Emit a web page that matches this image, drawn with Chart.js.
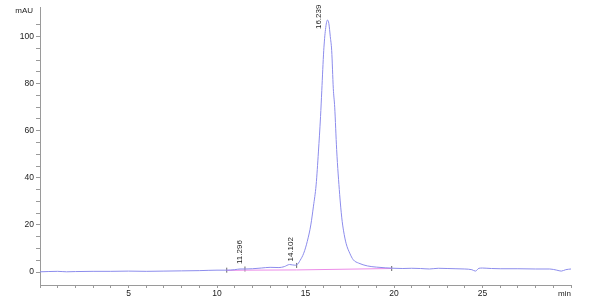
<!DOCTYPE html>
<html>
<head>
<meta charset="utf-8">
<script src="https://cdn.jsdelivr.net/npm/chart.js@4/dist/chart.umd.min.js"></script>
<style>
  body { margin: 0; background: #fff; }
  canvas { display: block; }
</style>
</head>
<body>
<canvas id="chromChart" width="600" height="300"></canvas>
<script>
// retention time (min) and absorbance (mAU)
const times = [0, 1, 1.5, 2, 3, 4, 5, 6, 7, 8, 9, 10, 10.55, 11, 11.3, 11.6, 12, 12.5, 13, 13.5, 13.8, 14.1, 14.4,
  14.5, 14.7, 14.9, 15.1, 15.3, 15.45, 15.6, 15.73, 15.85, 15.92, 16.03, 16.13, 16.24, 16.32, 16.4, 16.48, 16.57,
  16.65, 16.76, 16.93, 17.05, 17.15, 17.3, 17.5, 17.7, 18, 18.5, 19, 19.5, 20, 20.5, 21, 21.5, 22, 22.5, 23, 23.5,
  24, 24.4, 24.6, 24.8, 25, 25.5, 26, 27, 28, 28.8, 29.2, 29.45, 29.7, 30];
const mAU = [0.1, 0.3, 0.1, 0.2, 0.3, 0.3, 0.4, 0.3, 0.4, 0.5, 0.6, 0.8, 0.8, 1.0, 1.3, 1.3, 1.4, 1.7, 2.0, 1.9, 2.3, 3.2, 2.9,
  3.0, 5.0, 8.0, 13, 20, 28, 37, 51, 66, 77, 94, 103, 107, 105.5, 100, 94, 78,
  70, 52, 33, 23, 17.5, 12, 8, 5.2, 3.8, 2.6, 2.1, 1.8, 1.6, 1.5, 1.6, 1.5, 1.3, 1.6, 1.5, 1.4,
  1.3, 1.0, 0.4, 1.6, 1.7, 1.5, 1.4, 1.4, 1.3, 1.3, 0.8, 0.4, 1.0, 1.3];

// integration baseline
const baseTimes = [10.55, 11.58, 14.5, 19.87];
const baseMAU = [0.7, 0.8, 0.9, 1.5];

// peak start/end marks
const markTimes = [10.55, 11.58, 14.5, 19.87];
const markMAU = [0.8, 1.3, 2.8, 1.5];

// labelled peaks
const peakTimes = [11.296, 14.102, 16.239];
const peakMAU = [1.3, 3.2, 107];
const peakLabels = ['11.296', '14.102', '16.239'];

const xTicks = [5, 10, 15, 20, 25];
const yTicks = [0, 20, 40, 60, 80, 100];

const zip = (xs, ys) => xs.map((x, i) => ({ x, y: ys[i] }));

const FONT = "'Liberation Sans', Arial, sans-serif";
const AXIS = '#9a9a9a';
const TEXT = '#222';

const peakText = {
  id: 'peakText',
  afterDatasetsDraw(chart, args, opts) {
    const { ctx, scales: { x, y } } = chart;
    ctx.save();
    ctx.font = `8px ${FONT}`;
    ctx.fillStyle = TEXT;
    ctx.textAlign = 'left';
    ctx.textBaseline = 'middle';
    peakLabels.forEach((label, i) => {
      const [dx, dy] = opts.offsets[i];
      ctx.save();
      ctx.translate(x.getPixelForValue(peakTimes[i]) + dx, y.getPixelForValue(peakMAU[i]) + dy);
      ctx.rotate(-Math.PI / 2);
      ctx.fillText(label, 0, 0);
      ctx.restore();
    });
    // axis unit labels
    const area = chart.chartArea;
    ctx.textAlign = 'right';
    ctx.fillText('mAU', area.left - 7, area.top + 4);
    ctx.fillText('min', area.right, area.bottom + 9);
    ctx.restore();
  }
};

new Chart(document.getElementById('chromChart'), {
  type: 'line',
  data: {
    datasets: [{
      data: zip(times, mAU),
      borderColor: 'rgb(140, 140, 236)',
      borderWidth: 1,
      pointRadius: 0,
      cubicInterpolationMode: 'monotone',
    }, {
      data: zip(baseTimes, baseMAU),
      borderColor: 'rgb(236, 140, 232)',
      borderWidth: 1,
      pointRadius: 0,
    }, {
      type: 'scatter',
      data: zip(markTimes, markMAU),
      pointStyle: 'line',
      rotation: 90,
      radius: 2.5,
      borderColor: '#666',
      borderWidth: 1,
    }],
  },
  options: {
    responsive: false,
    animation: false,
    devicePixelRatio: 1,
    layout: { padding: { top: 7, right: 29, left: 0, bottom: 0 } },
    plugins: {
      legend: { display: false },
      tooltip: { enabled: false },
      peakText: { offsets: [[0, -5], [1, -3], [-9, 9]] },
    },
    scales: {
      x: {
        type: 'linear',
        min: 0,
        max: 30,
        afterFit: (s) => { s.height = 15; },
        grid: { drawOnChartArea: false, tickLength: 3, color: AXIS },
        border: { color: AXIS },
        ticks: {
          stepSize: 1,
          autoSkip: false,
          maxRotation: 0,
          padding: 1,
          color: TEXT,
          font: { size: 8.5, family: FONT },
          callback: (v) => (xTicks.includes(v) ? v : ''),
        },
      },
      y: {
        min: -5.5,
        max: 112.5,
        afterFit: (s) => { s.width = 40; },
        afterBuildTicks: (s) => { s.ticks = s.ticks.filter((t) => t.value % 5 === 0); },
        grid: { drawOnChartArea: false, tickLength: 4, color: AXIS },
        border: { color: AXIS },
        ticks: {
          stepSize: 5,
          autoSkip: false,
          padding: 2,
          color: TEXT,
          font: { size: 8.5, family: FONT },
          callback: (v) => (yTicks.includes(v) ? v : ''),
        },
      },
    },
  },
  plugins: [peakText],
});
</script>
</body>
</html>
